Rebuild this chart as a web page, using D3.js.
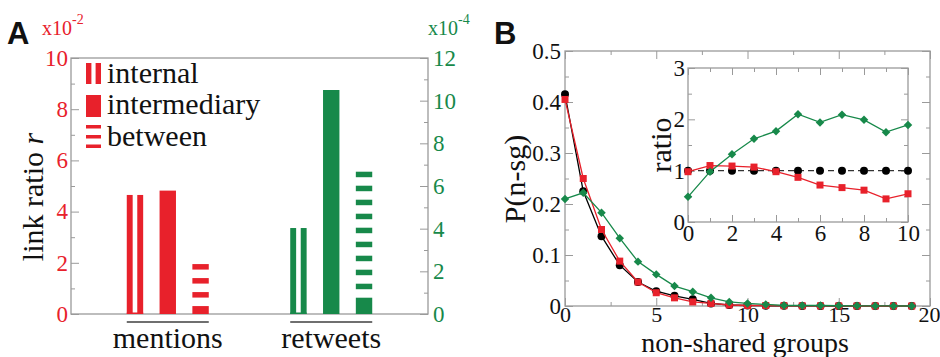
<!DOCTYPE html>
<html>
<head>
<meta charset="utf-8">
<script src="https://cdn.jsdelivr.net/npm/d3@7"></script>
<style>
body { margin: 0; background: #fff; }
text { font-family: "Liberation Serif", "Times New Roman", serif; }
</style>
</head>
<body>
<div class="chart"></div>
<script>
// ---- panel A data ----
const categories = ["mentions", "retweets"];
const linkTypes = ["internal", "intermediary", "between"];
const mentionsRatio = [4.65, 4.82, 1.95];   // x10^-2 (left axis)
const retweetsRatio = [4.03, 10.5, 6.67];   // x10^-4 (right axis)
const leftTicks = [0, 2, 4, 6, 8, 10];
const rightTicks = [0, 2, 4, 6, 8, 10, 12];

// ---- panel B data ----
const groupsX = d3.range(0, 20);
const pBlack = [0.415, 0.225, 0.137, 0.080, 0.047, 0.029, 0.020, 0.013, 0.005, 0.002,
                0.001, 0.0005, 0.0003, 0.0002, 0.0001, 0, 0, 0, 0, 0];
const pRed   = [0.405, 0.250, 0.150, 0.088, 0.047, 0.026, 0.016, 0.008, 0.005, 0.002,
                0.001, 0.001, 0.0005, 0.0003, 0.0002, 0.0001, 0, 0, 0, 0];
const pGreen = [0.210, 0.222, 0.183, 0.133, 0.087, 0.062, 0.039, 0.028, 0.016, 0.008,
                0.005, 0.003, 0.001, 0.001, 0.001, 0.0005, 0.0003, 0.0002, 0.0001, 0];
const bTicksX = [0, 5, 10, 15, 20];
const bTicksY = [0, 0.1, 0.2, 0.3, 0.4, 0.5];

// ---- inset data ----
const insetX = d3.range(0, 11);
const ratioBlack = [1, 1, 1, 1, 1, 1, 1, 1, 1, 1, 1];
const ratioRed   = [0.98, 1.10, 1.09, 1.07, 0.98, 0.87, 0.72, 0.67, 0.62, 0.45, 0.55];
const ratioGreen = [0.49, 0.98, 1.32, 1.62, 1.77, 2.10, 1.94, 2.09, 1.99, 1.75, 1.89];
const insetTicksX = [0, 2, 4, 6, 8, 10];
const insetTicksY = [0, 1, 2, 3];

const RED = "#e8212b", GREEN = "#17894a", GRAY = "#9a9a9a", INK = "#111";
const SERIF = "'Liberation Serif', 'Times New Roman', serif";

const svg = d3.select(".chart").append("svg")
    .attr("width", 940)
    .attr("height", 357);

function styleAxis(g, color) {
    g.attr("font-family", null);
    g.select(".domain").remove();
    g.selectAll(".tick line").attr("stroke", GRAY);
    g.selectAll(".tick text")
        .style("font-family", SERIF)
        .style("font-size", "23px")
        .style("fill", color || INK);
}

// ================= panel A =================
const A = {left: 71, right: 428, top: 58, bottom: 314};

const yLeft = d3.scaleLinear().domain([0, 10]).range([A.bottom, A.top]);
const yRight = d3.scaleLinear().domain([0, 12]).range([A.bottom, A.top]);
const xGroup = d3.scalePoint().domain(categories).range([A.left, A.right]).padding(0.592);
const xType = d3.scaleBand().domain(linkTypes).range([-41, 41]).paddingInner(0.5);

svg.append("g")
    .attr("transform", `translate(${A.left},0)`)
    .call(d3.axisLeft(yLeft).tickValues(leftTicks).tickSize(-8).tickPadding(3)
        .tickFormat(d3.format("d")))
    .call(g => styleAxis(g, RED));
svg.append("g")
    .attr("transform", `translate(${A.left},0)`)
    .call(d3.axisLeft(yLeft).tickValues([1, 3, 5, 7, 9]).tickSize(-4).tickFormat(""))
    .call(g => styleAxis(g));
svg.append("g")
    .attr("transform", `translate(${A.right},0)`)
    .call(d3.axisRight(yRight).tickValues(rightTicks).tickSize(-8).tickPadding(5)
        .tickFormat(d3.format("d")))
    .call(g => styleAxis(g, GREEN));
svg.append("g")
    .attr("transform", `translate(${A.right},0)`)
    .call(d3.axisRight(yRight).tickValues([1, 3, 5, 7, 9, 11]).tickSize(-4).tickFormat(""))
    .call(g => styleAxis(g));

svg.append("rect")
    .attr("x", A.left).attr("y", A.top)
    .attr("width", A.right - A.left).attr("height", A.bottom - A.top)
    .attr("fill", "none").attr("stroke", GRAY).attr("stroke-width", 1.3);

const bars = [];
categories.forEach((c, i) => {
    const vals = i === 0 ? mentionsRatio : retweetsRatio;
    linkTypes.forEach((t, j) => {
        bars.push({cat: c, type: t, value: vals[j],
                   y: i === 0 ? yLeft : yRight, color: i === 0 ? RED : GREEN});
    });
});

// draw one bar-style glyph in a box
function drawGlyph(g, type, color, x, y0, y1, w) {
    const h = y1 - y0;
    if (type === "intermediary") {
        g.append("rect").attr("x", x).attr("y", y0).attr("width", w).attr("height", h)
            .attr("fill", color);
    } else if (type === "internal") {
        const sw = w * 0.36;
        g.append("rect").attr("x", x).attr("y", y0).attr("width", sw).attr("height", h)
            .attr("fill", color);
        g.append("rect").attr("x", x + w - sw).attr("y", y0).attr("width", sw).attr("height", h)
            .attr("fill", color);
    } else {
        const band = 5.5, period = 14;
        const n = Math.max(0, Math.floor((h - band) / period));
        for (let k = 0; k < n; k++) {
            g.append("rect").attr("x", x).attr("y", y0 + k * period)
                .attr("width", w).attr("height", band).attr("fill", color);
        }
        g.append("rect").attr("x", x).attr("y", y0 + n * period)
            .attr("width", w).attr("height", y1 - (y0 + n * period)).attr("fill", color);
    }
}

const barG = svg.append("g");
bars.forEach(d => {
    const x = xGroup(d.cat) + xType(d.type);
    drawGlyph(barG, d.type, d.color, x, d.y(d.value), A.bottom, xType.bandwidth());
    if (d.type === "internal") {
        barG.append("rect").attr("x", x).attr("y", A.bottom - 1.5)
            .attr("width", xType.bandwidth()).attr("height", 1.5).attr("fill", d.color);
    }
});

// group underline + labels
categories.forEach(c => {
    const x0 = xGroup(c) + xType(linkTypes[0]);
    const x1 = xGroup(c) + xType(linkTypes[2]) + xType.bandwidth();
    svg.append("line")
        .attr("x1", x0).attr("x2", x1).attr("y1", 322).attr("y2", 322)
        .attr("stroke", "#6f6f6f").attr("stroke-width", 2);
    svg.append("text")
        .attr("x", (x0 + x1) / 2).attr("y", 348)
        .attr("text-anchor", "middle").style("font-size", "30px").style("fill", INK)
        .text(c);
});

// legend
const legendRows = [
    {type: "internal", y0: 63, y1: 84, ty: 83},
    {type: "intermediary", y0: 95, y1: 117, ty: 114},
    {type: "between", y0: 125, y1: 148, ty: 146}
];
const legG = svg.append("g");
legendRows.forEach(r => {
    if (r.type === "between") {
        [0, 10, 19.5].forEach(o => legG.append("rect")
            .attr("x", 86).attr("y", r.y0 + o).attr("width", 15).attr("height", 3.5)
            .attr("fill", RED));
    } else {
        drawGlyph(legG, r.type, RED, 86, r.y0, r.y1, 15);
    }
    legG.append("text").attr("x", 107).attr("y", r.ty)
        .style("font-size", "30px").style("fill", INK).text(r.type);
});

// axis title
svg.append("text")
    .attr("transform", "translate(43,197) rotate(-90)")
    .attr("text-anchor", "middle").style("font-size", "30px").style("fill", INK)
    .text("link ratio ")
    .append("tspan").style("font-style", "italic").text("r");

// exponents
const expL = svg.append("text").attr("x", 42).attr("y", 35)
    .style("font-size", "20px").style("fill", RED);
expL.append("tspan").text("x10");
expL.append("tspan").style("font-size", "14px").attr("dy", -11).text("-2");
const expR = svg.append("text").attr("x", 428).attr("y", 35)
    .style("font-size", "20px").style("fill", GREEN);
expR.append("tspan").text("x10");
expR.append("tspan").style("font-size", "14px").attr("dy", -11).text("-4");

svg.append("text").attr("x", 7).attr("y", 44)
    .style("font-family", "'Liberation Sans', Arial, sans-serif")
    .style("font-weight", "bold").style("font-size", "31px").style("fill", INK).text("A");

// ================= panel B =================
const B = {left: 565, right: 930, top: 51, bottom: 306};
const xB = d3.scaleLinear().domain([0, 20]).range([B.left, B.right]);
const yB = d3.scaleLinear().domain([0, 0.5]).range([B.bottom, B.top]);

svg.append("g").attr("transform", `translate(0,${B.bottom})`)
    .call(d3.axisBottom(xB).tickValues(bTicksX).tickSize(-8).tickPadding(0)
        .tickFormat(d3.format("d")))
    .call(g => styleAxis(g))
    .call(g => g.selectAll(".tick text").style("font-size", "22px"))
    .call(g => g.selectAll(".tick text").filter(d => d === 20)
        .attr("text-anchor", "end").attr("x", 10));
svg.append("g").attr("transform", `translate(0,${B.bottom})`)
    .call(d3.axisBottom(xB).tickValues([2.5, 7.5, 12.5, 17.5]).tickSize(-4).tickFormat(""))
    .call(g => styleAxis(g));
svg.append("g").attr("transform", `translate(0,${B.top})`)
    .call(d3.axisTop(xB).tickValues(bTicksX).tickSize(-8).tickFormat(""))
    .call(g => styleAxis(g));
svg.append("g").attr("transform", `translate(0,${B.top})`)
    .call(d3.axisTop(xB).tickValues([2.5, 7.5, 12.5, 17.5]).tickSize(-4).tickFormat(""))
    .call(g => styleAxis(g));
svg.append("g").attr("transform", `translate(${B.left},0)`)
    .call(d3.axisLeft(yB).tickValues(bTicksY).tickSize(-8).tickPadding(4)
        .tickFormat(d => d === 0 ? "0" : d.toFixed(1)))
    .call(g => styleAxis(g));
svg.append("g").attr("transform", `translate(${B.left},0)`)
    .call(d3.axisLeft(yB).tickValues([0.05, 0.15, 0.25, 0.35, 0.45]).tickSize(-4).tickFormat(""))
    .call(g => styleAxis(g));
svg.append("g").attr("transform", `translate(${B.right},0)`)
    .call(d3.axisRight(yB).tickValues(bTicksY).tickSize(-8).tickFormat(""))
    .call(g => styleAxis(g));
svg.append("g").attr("transform", `translate(${B.right},0)`)
    .call(d3.axisRight(yB).tickValues([0.05, 0.15, 0.25, 0.35, 0.45]).tickSize(-4).tickFormat(""))
    .call(g => styleAxis(g));
svg.append("rect")
    .attr("x", B.left).attr("y", B.top)
    .attr("width", B.right - B.left).attr("height", B.bottom - B.top)
    .attr("fill", "none").attr("stroke", GRAY).attr("stroke-width", 1.3);

function drawSeries(g, xs, ys, xScale, yScale, color, marker, size) {
    const pts = xs.map((x, i) => [x, ys[i]]);
    const line = d3.line().x(d => xScale(d[0])).y(d => yScale(d[1]));
    g.append("path").datum(pts)
        .attr("fill", "none").attr("stroke", color).attr("stroke-width", 1.3)
        .attr("d", line);
    const sym = marker === "circle"
        ? d3.symbol().type(d3.symbolCircle).size(Math.PI * size * size / 4)
        : d3.symbol().type(d3.symbolSquare).size(size * size);
    g.append("g").selectAll("path").data(pts).join("path")
        .attr("fill", color)
        .attr("d", sym)
        .attr("transform", d => `translate(${xScale(d[0])},${yScale(d[1])})` +
              (marker === "diamond" ? " rotate(45)" : ""));
    return g;
}

const seriesB = svg.append("g");
drawSeries(seriesB, groupsX, pBlack, xB, yB, "#000", "circle", 8);
drawSeries(seriesB, groupsX, pRed, xB, yB, RED, "square", 7);
drawSeries(seriesB, groupsX, pGreen, xB, yB, GREEN, "diamond", 6);

svg.append("text")
    .attr("x", 745).attr("y", 352)
    .attr("text-anchor", "middle").style("font-size", "28px").style("fill", INK)
    .text("non-shared groups");
svg.append("text")
    .attr("transform", "translate(525,179) rotate(-90)")
    .attr("text-anchor", "middle").style("font-size", "30px").style("fill", INK)
    .text("P(n-sg)");
svg.append("text").attr("x", 494).attr("y", 44)
    .style("font-family", "'Liberation Sans', Arial, sans-serif")
    .style("font-weight", "bold").style("font-size", "31px").style("fill", INK).text("B");

// ================= inset =================
const I = {left: 688, right: 908, top: 68, bottom: 222};
const xI = d3.scaleLinear().domain([0, 10]).range([I.left, I.right]);
const yI = d3.scaleLinear().domain([0, 3]).range([I.bottom, I.top]);

svg.append("rect")
    .attr("x", I.left).attr("y", I.top)
    .attr("width", I.right - I.left).attr("height", I.bottom - I.top)
    .attr("fill", "#fff");
svg.append("g").attr("transform", `translate(0,${I.bottom})`)
    .call(d3.axisBottom(xI).tickValues(insetTicksX).tickSize(-7).tickPadding(3)
        .tickFormat(d3.format("d")))
    .call(g => styleAxis(g));
svg.append("g").attr("transform", `translate(0,${I.bottom})`)
    .call(d3.axisBottom(xI).tickValues([1, 3, 5, 7, 9]).tickSize(-4).tickFormat(""))
    .call(g => styleAxis(g));
svg.append("g").attr("transform", `translate(0,${I.top})`)
    .call(d3.axisTop(xI).tickValues(insetTicksX).tickSize(-7).tickFormat(""))
    .call(g => styleAxis(g));
svg.append("g").attr("transform", `translate(0,${I.top})`)
    .call(d3.axisTop(xI).tickValues([1, 3, 5, 7, 9]).tickSize(-4).tickFormat(""))
    .call(g => styleAxis(g));
svg.append("g").attr("transform", `translate(${I.left},0)`)
    .call(d3.axisLeft(yI).tickValues(insetTicksY).tickSize(-7).tickPadding(3)
        .tickFormat(d3.format("d")))
    .call(g => styleAxis(g));
svg.append("g").attr("transform", `translate(${I.left},0)`)
    .call(d3.axisLeft(yI).tickValues([0.5, 1.5, 2.5]).tickSize(-4).tickFormat(""))
    .call(g => styleAxis(g));
svg.append("g").attr("transform", `translate(${I.right},0)`)
    .call(d3.axisRight(yI).tickValues(insetTicksY).tickSize(-7).tickFormat(""))
    .call(g => styleAxis(g));
svg.append("g").attr("transform", `translate(${I.right},0)`)
    .call(d3.axisRight(yI).tickValues([0.5, 1.5, 2.5]).tickSize(-4).tickFormat(""))
    .call(g => styleAxis(g));
svg.append("rect")
    .attr("x", I.left).attr("y", I.top)
    .attr("width", I.right - I.left).attr("height", I.bottom - I.top)
    .attr("fill", "none").attr("stroke", GRAY).attr("stroke-width", 1.3);

const seriesI = svg.append("g");
// black: dashed reference line with dots
seriesI.append("path")
    .datum(insetX.map((x, i) => [x, ratioBlack[i]]))
    .attr("fill", "none").attr("stroke", "#333").attr("stroke-width", 1.3)
    .attr("stroke-dasharray", "6,4")
    .attr("d", d3.line().x(d => xI(d[0])).y(d => yI(d[1])));
seriesI.append("g").selectAll("circle")
    .data(insetX.map((x, i) => [x, ratioBlack[i]]))
    .join("circle")
    .attr("cx", d => xI(d[0])).attr("cy", d => yI(d[1]))
    .attr("r", 4).attr("fill", "#000");
drawSeries(seriesI, insetX, ratioRed, xI, yI, RED, "square", 7);
drawSeries(seriesI, insetX, ratioGreen, xI, yI, GREEN, "diamond", 6);

svg.append("text")
    .attr("transform", "translate(671,145) rotate(-90)")
    .attr("text-anchor", "middle").style("font-size", "30px").style("fill", INK)
    .text("ratio");
</script>
</body>
</html>
